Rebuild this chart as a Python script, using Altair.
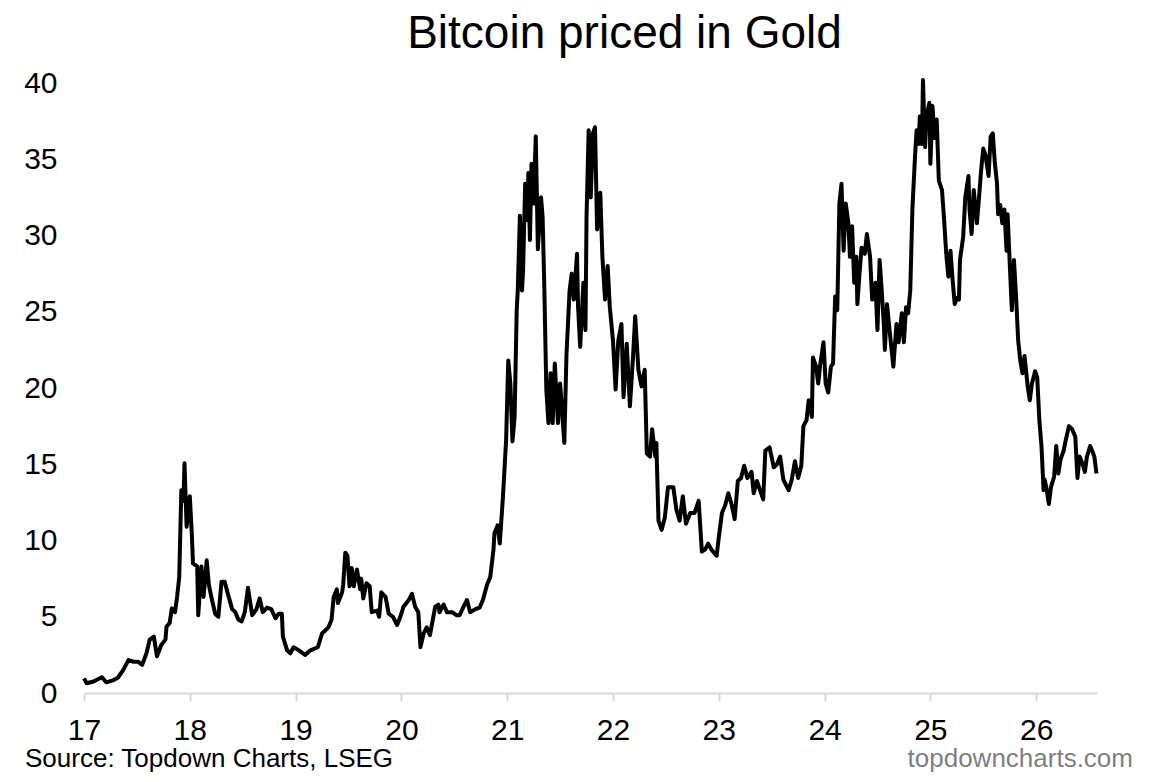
import altair as alt
import pandas as pd

# Decimal year (17 = 2017) and Bitcoin price in ounces of gold
years = [
    17.00, 17.025, 17.09, 17.17, 17.21, 17.28, 17.32, 17.37, 17.42, 17.47, 17.51, 17.55, 17.59, 17.62, 17.66,
    17.69, 17.73, 17.77, 17.78, 17.81, 17.83, 17.86, 17.88, 17.90, 17.92, 17.94, 17.95, 17.97, 18.00, 18.02,
    18.03, 18.07, 18.08, 18.11, 18.13, 18.16, 18.18, 18.21, 18.24, 18.27, 18.30, 18.33, 18.36, 18.40, 18.43,
    18.46, 18.49, 18.52, 18.55, 18.59, 18.63, 18.66, 18.69, 18.73, 18.77, 18.81, 18.84, 18.87, 18.88, 18.92,
    18.95, 18.98, 19.03, 19.09, 19.14, 19.21, 19.25, 19.31, 19.34, 19.36, 19.39, 19.40, 19.44, 19.45, 19.47,
    19.49, 19.51, 19.53, 19.55, 19.58, 19.61, 19.62, 19.64, 19.67, 19.70, 19.72, 19.77, 19.79, 19.81, 19.85,
    19.88, 19.92, 19.96, 19.99, 20.02, 20.07, 20.10, 20.13, 20.16, 20.18, 20.21, 20.24, 20.27, 20.32, 20.35,
    20.36, 20.40, 20.43, 20.48, 20.52, 20.55, 20.59, 20.62, 20.65, 20.70, 20.74, 20.77, 20.81, 20.84,
    20.87, 20.88, 20.91, 20.93, 20.96, 20.99, 21.01, 21.03, 21.05, 21.07, 21.09, 21.10, 21.12, 21.14, 21.15,
    21.17, 21.19, 21.20, 21.215, 21.23, 21.25, 21.27, 21.29, 21.32, 21.335, 21.35, 21.37, 21.39, 21.41, 21.43,
    21.45, 21.48, 21.50, 21.54, 21.56, 21.59, 21.61, 21.63, 21.66, 21.67, 21.69, 21.72, 21.74, 21.75, 21.77,
    21.79, 21.81, 21.83, 21.85, 21.88, 21.90, 21.925, 21.95, 21.97, 22.00, 22.025, 22.05, 22.08, 22.10, 22.13,
    22.16, 22.19, 22.21, 22.24, 22.27, 22.30, 22.32, 22.35, 22.37, 22.40, 22.41, 22.43, 22.46, 22.49, 22.52,
    22.57, 22.60, 22.63, 22.66, 22.69, 22.73, 22.77, 22.81, 22.84, 22.87, 22.90, 22.93, 22.98, 23.00, 23.03,
    23.06, 23.09, 23.12, 23.15, 23.18, 23.21, 23.24, 23.27, 23.31, 23.33, 23.36, 23.39, 23.42, 23.44, 23.48,
    23.52, 23.55,
    23.58, 23.61, 23.66, 23.69, 23.72, 23.75, 23.78, 23.80, 23.83, 23.85, 23.88, 23.89, 23.92, 23.94, 23.96,
    23.99, 24.01, 24.035, 24.06, 24.08, 24.10, 24.12, 24.14, 24.16, 24.18, 24.20, 24.225, 24.24, 24.26, 24.28,
    24.30, 24.31, 24.33, 24.35, 24.38, 24.40, 24.43, 24.45, 24.48, 24.50, 24.52, 24.54, 24.56, 24.57, 24.59,
    24.62, 24.65, 24.68, 24.70, 24.73, 24.75, 24.77, 24.79, 24.81, 24.83, 24.855, 24.87, 24.89, 24.90, 24.92,
    24.93, 24.95, 24.96, 24.99, 25.00, 25.02, 25.04, 25.06, 25.08, 25.11, 25.13, 25.15, 25.17, 25.19, 25.21,
    25.23, 25.25, 25.27, 25.28, 25.31, 25.33, 25.36, 25.37, 25.39, 25.41, 25.44, 25.46, 25.48, 25.50, 25.52,
    25.55, 25.57, 25.59, 25.61, 25.63, 25.64, 25.66, 25.68, 25.70, 25.72, 25.73, 25.75, 25.77, 25.79, 25.81,
    25.83, 25.85, 25.87, 25.89, 25.92, 25.94, 25.96, 25.99, 26.01, 26.03, 26.05, 26.07, 26.08, 26.10, 26.12,
    26.14, 26.17, 26.19, 26.21, 26.23, 26.26, 26.28, 26.31, 26.34, 26.37, 26.39, 26.41, 26.44, 26.46, 26.48,
    26.51, 26.54, 26.55, 26.57,
]
values = [
    0.96, 0.64, 0.75, 1.03, 0.70, 0.85, 1.00, 1.50, 2.16, 2.05, 2.05, 1.85, 2.60, 3.48, 3.70,
    2.40, 3.15, 3.50, 4.35, 4.60, 5.55, 5.30, 6.30, 7.60, 13.3, 12.6, 15.06, 10.9, 12.9, 10.3,
    8.5, 8.3, 5.1, 8.3, 6.3, 8.7, 7.1, 6.1, 5.2, 5.0, 7.3, 7.3, 6.5, 5.5, 5.3,
    4.8, 4.7, 5.3, 6.9, 5.1, 5.5, 6.2, 5.3, 5.6, 5.5, 4.9, 5.2, 5.2, 3.7, 2.8,
    2.6, 3.0, 2.8, 2.5, 2.8, 3.0, 3.9, 4.3, 4.8, 6.3, 6.8, 5.9, 6.6, 7.1, 9.2,
    9.0, 7.0, 8.2, 7.0, 8.1, 6.8, 7.5, 6.2, 7.2, 7.0, 5.3, 5.4, 5.0, 6.6, 6.3,
    5.2, 5.0, 4.46, 5.0, 5.66, 6.1, 6.5, 5.66, 5.3, 3.0, 3.9, 4.3, 3.8, 5.66, 5.8,
    5.3, 5.8, 5.3, 5.3, 5.1, 5.1, 5.7, 6.1, 5.3, 5.5, 5.6, 6.1, 7.1, 7.6,
    9.38, 10.47, 11.0, 9.8, 12.87, 16.6, 21.8, 20.3, 16.5, 18.1, 25.1, 26.4, 31.3, 26.4, 27.7,
    33.4, 31.0, 34.1, 29.7, 34.7, 32.1, 36.5, 29.1, 32.5, 31.2, 26.9, 19.9, 17.7, 20.97, 17.7,
    21.6, 17.7, 20.3, 16.4, 22.1, 26.4, 27.5, 25.8, 28.8, 25.3, 22.7, 26.9, 23.8, 31.2, 36.9,
    32.5, 36.7, 37.1, 30.4, 32.8, 28.6, 25.8, 28.0, 25.3, 23.1, 19.9, 23.1, 24.2, 19.4, 22.9,
    18.8, 22.1, 24.7, 21.2, 20.1, 21.2, 15.7, 15.5, 17.3, 15.5, 16.4, 11.3, 10.7, 11.5, 13.5,
    13.5, 12.0, 11.3, 12.9, 11.1, 11.8, 11.8, 12.6, 9.27, 9.4, 9.8, 9.4, 9.0, 10.2, 11.8,
    12.3, 13.1, 12.4, 11.4, 13.9, 14.1, 14.9, 14.1, 14.5, 13.1, 13.9, 13.3, 12.7, 15.9, 16.1,
    14.8, 15.0,
    15.5, 14.0, 13.3, 14.0, 15.2, 14.1, 14.9, 17.5, 17.9, 19.2, 18.1, 22.0, 21.4, 20.3, 21.6,
    23.0, 20.3, 19.7, 21.4, 21.6, 26.0, 25.1, 32.1, 33.4, 29.0, 32.1, 30.8, 28.6, 30.6, 26.9,
    28.6, 25.5, 27.5, 29.2, 28.8, 30.1, 28.6, 25.8, 26.9, 23.8, 28.4, 26.4, 24.2, 22.5, 25.5,
    23.4, 21.4, 24.2, 23.0, 24.9, 23.0, 25.3, 24.9, 26.4, 31.7, 35.2, 36.9, 36.0, 37.8, 36.0,
    40.2, 35.8, 37.6, 38.7, 34.7, 38.5, 36.4, 37.6, 33.6, 32.98, 31.0, 28.8, 27.3, 29.0, 27.1,
    25.5, 25.9, 25.8, 28.4, 29.9, 32.5, 33.9, 31.7, 30.1, 32.98, 30.8, 32.5, 34.3, 35.7, 35.3,
    33.9, 36.5, 36.7, 34.7, 33.4, 31.4, 32.0, 30.8, 31.7, 29.0, 31.4, 28.2, 25.1, 28.4, 26.0,
    23.1, 21.8, 20.97, 22.1, 20.1, 19.2, 20.3, 21.1, 20.7, 17.9, 16.2, 13.3, 14.0, 13.3, 12.4,
    13.5, 14.2, 16.2, 14.4, 15.3, 15.9, 16.6, 17.5, 17.3, 16.8, 14.1, 15.5, 15.0, 14.5, 15.5,
    16.2, 15.7, 15.5, 14.4,
]

x_ticks = [17, 18, 19, 20, 21, 22, 23, 24, 25, 26]
y_ticks = [0, 5, 10, 15, 20, 25, 30, 35, 40]

title_text = "Bitcoin priced in Gold"
source_text = "Source: Topdown Charts, LSEG"
site_text = "topdowncharts.com"

FONT = "Liberation Sans"

df = pd.DataFrame({"year": years, "value": values})

line = alt.Chart(df).mark_line(color="black", strokeWidth=4, strokeJoin="round").encode(
    x=alt.X(
        "year:Q",
        scale=alt.Scale(domain=[17, 26.575], nice=False, zero=False),
        axis=alt.Axis(
            values=x_ticks, format="d", title=None, grid=False,
            domainColor="#d9d9d9", domainWidth=2, tickColor="#d9d9d9", tickWidth=2,
            tickSize=8, labelFontSize=30, labelFont=FONT, labelColor="black",
            labelPadding=14, labelFlush=False,
        ),
    ),
    y=alt.Y(
        "value:Q",
        scale=alt.Scale(domain=[0, 40], nice=False),
        axis=alt.Axis(
            values=y_ticks, title=None, grid=False, domain=False, ticks=False,
            labelFontSize=30, labelFont=FONT, labelColor="black", labelPadding=27,
        ),
    ),
)

notes = alt.Data(values=[{}])
source = alt.Chart(notes).mark_text(
    text=source_text, font=FONT, fontSize=26, align="left", baseline="alphabetic", color="black"
).encode(x=alt.value(-59), y=alt.value(684))
site = alt.Chart(notes).mark_text(
    text=site_text, font=FONT, fontSize=26, align="right", baseline="alphabetic", color="#7f7f7f"
).encode(x=alt.value(1049), y=alt.value(684))

chart = alt.layer(line, source, site).properties(
    width=1013,
    height=610,
    padding={"left": 76, "top": 75, "right": 45, "bottom": 81},
    autosize=alt.AutoSizeParams(type="none"),
    title=alt.TitleParams(
        title_text, font=FONT, fontSize=46, fontWeight="normal", color="black",
        anchor="middle", dx=34, offset=10,
    ),
).configure_view(stroke=None)

chart.save("out.html", embed_options={"renderer": "svg", "actions": False})
